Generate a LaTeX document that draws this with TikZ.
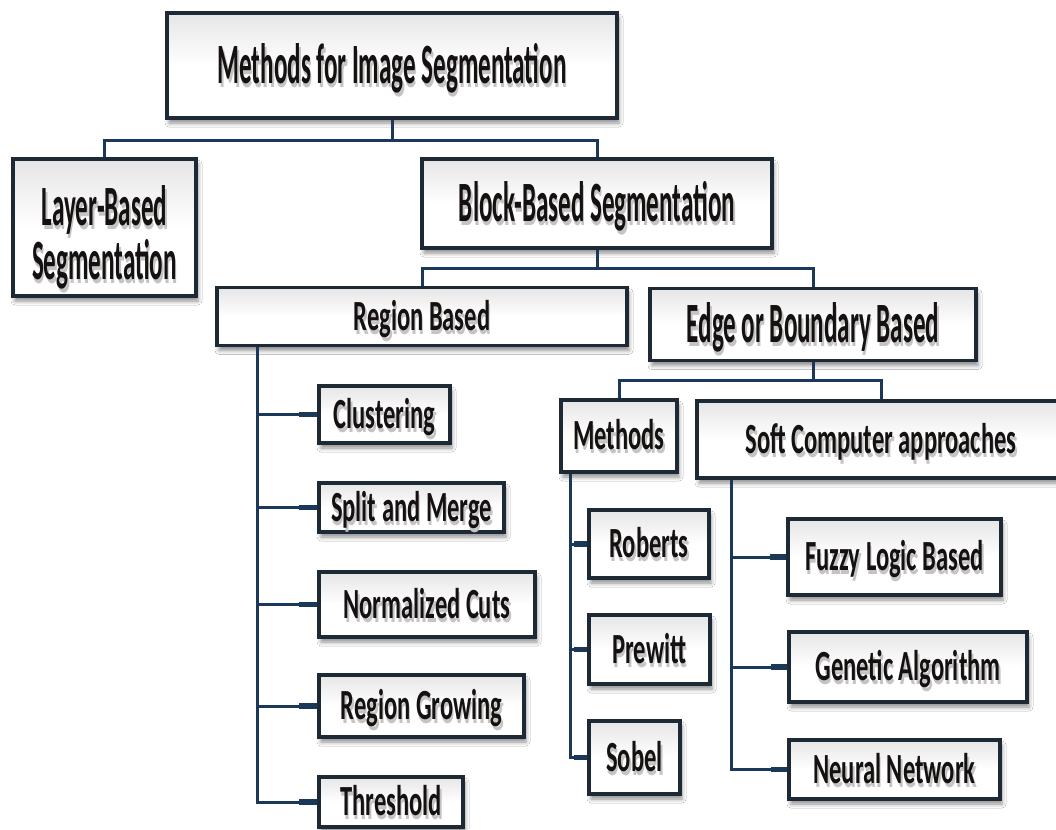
\documentclass[tikz,border=0pt]{standalone}
\usepackage{fontspec}
\usetikzlibrary{calc,shadows.blur}

% Condensed bold faces for the labels
\newfontfamily\headfont{Carlito Bold}[FakeStretch=0.44]
\newfontfamily\itemfont{Carlito Bold}[FakeStretch=0.57]

\definecolor{linkblue}{HTML}{1B3858}
\definecolor{frame}{HTML}{1E2936}
\definecolor{ink}{HTML}{141110}

% label with a soft grey shadow underneath
\newcommand\shd[1]{\leavevmode\rlap{\hspace{1.5pt}\raisebox{-4pt}{\color{black!23}#1}}#1}

\tikzset{
  box/.style={draw=frame, line width=3.5, top color=black!10, bottom color=white,
    middle color=white, inner sep=0, text=ink, align=center,
    blur shadow={shadow xshift=2pt, shadow yshift=-5pt, shadow opacity=45,
      shadow blur radius=4pt}},
  headtext/.style={font=\headfont\fontsize{57}{52}\selectfont},
  itemtext/.style={font=\itemfont\fontsize{43}{43}\selectfont},
  headbox/.style={box, headtext, text height=36, text depth=0},
  itembox/.style={box, itemtext, text height=27, text depth=0},
  link/.style={draw=linkblue, line width=3},
  stub/.style={draw=linkblue, line width=5.5},
}

\begin{document}
\begin{tikzpicture}[x=1pt, y=-1pt]
\useasboundingbox (0,0) rectangle (1056,829);
\fill[white] (0,0) rectangle (1056,829);

% upper levels
\node[headbox, minimum width=450, minimum height=105] (top) at (392,65.5)
  {\shd{Methods for Image Segmentation}};
\node[box, headtext, minimum width=183, minimum height=137] (layer) at (104.5,227.5)
  {\rule{0pt}{64pt}\shd{Layer-Based}\\\shd{Segmentation}};
\node[headbox, minimum width=350, minimum height=89] (block) at (597,203.5)
  {\shd{Block-Based Segmentation}};
\node[itembox, minimum width=410, minimum height=58] (region) at (422,316.5)
  {\shd{Region Based}};
\node[headbox, minimum width=326, minimum height=72] (edge) at (813,324.5)
  {\shd{Edge or Boundary Based}};
\node[itembox, minimum width=116, minimum height=72] (methods) at (619,436)
  {\shd{Methods}};
\node[itembox, minimum width=368, minimum height=77] (soft) at (881,439.5)
  {\shd{Soft Computer approaches}};

% region based techniques
\node[itembox, minimum width=131, minimum height=57] (clu) at (384.5,414.5) {\shd{Clustering}};
\node[itembox, minimum width=185, minimum height=49] (split) at (411.5,507.5) {\shd{Split and Merge}};
\node[itembox, minimum width=216, minimum height=65] (norm) at (427,604.5) {\shd{Normalized Cuts}};
\node[itembox, minimum width=205, minimum height=62] (grow) at (421.5,706) {\shd{Region Growing}};
\node[itembox, minimum width=144, minimum height=50] (thr) at (391,802) {\shd{Threshold}};

% edge operators
\node[itembox, minimum width=120, minimum height=68] (rob) at (649,544) {\shd{Roberts}};
\node[itembox, minimum width=121, minimum height=69] (pre) at (649.5,649.5) {\shd{Prewitt}};
\node[itembox, minimum width=91, minimum height=73] (sob) at (634.5,757.5) {\shd{Sobel}};

% soft computing approaches
\node[itembox, minimum width=213, minimum height=76] (fuz) at (894.5,557) {\shd{Fuzzy Logic Based}};
\node[itembox, minimum width=238, minimum height=70] (gen) at (908,667) {\shd{Genetic Algorithm}};
\node[itembox, minimum width=211, minimum height=59] (neu) at (894.5,769.5) {\shd{Neural Network}};

% tree connectors
\draw[link] (top.south) -- ++(0,21) -| (layer.north);
\draw[link] (top.south) -- ++(0,21) -| (block.north);
\draw[link] (block.south) -- ++(0,19) -| (region.north);
\draw[link] (block.south) -- ++(0,19) -| (edge.north);
\draw[link] (edge.south) -- ++(0,18) -| (methods.north);
\draw[link] (edge.south) -- ++(0,18) -| (soft.north);

\coordinate (rtrunk) at ($(region.south west)+(42,0)$);
\coordinate (mtrunk) at ($(methods.south west)+(11,0)$);
\coordinate (strunk) at ($(soft.south west)+(36,0)$);

\foreach \n in {clu,split,norm,grow,thr} {
  \draw[link] (rtrunk) |- (\n.west);
  \draw[stub] ($(\n.west)+(-18,0)$) -- (\n.west);
}
\foreach \n in {rob,pre,sob} {
  \draw[link] (mtrunk) |- (\n.west);
  \draw[stub] ($(\n.west)+(-13,0)$) -- (\n.west);
}
\foreach \n in {fuz,gen,neu} {
  \draw[link] (strunk) |- (\n.west);
  \draw[stub] ($(\n.west)+(-16,0)$) -- (\n.west);
}
\end{tikzpicture}
\end{document}
